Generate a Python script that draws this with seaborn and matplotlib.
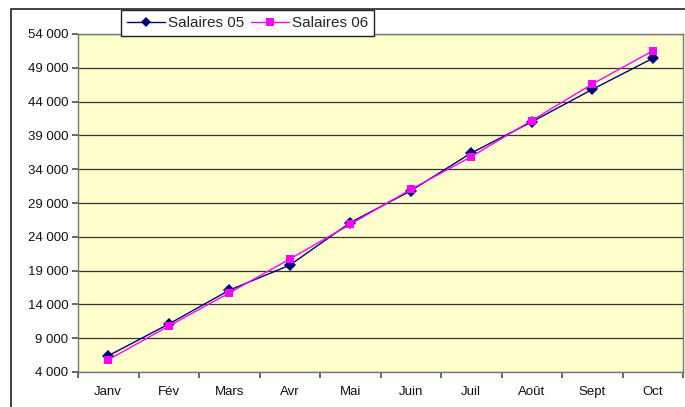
import numpy as np
import pandas as pd
import matplotlib
matplotlib.use('Agg')
import matplotlib.pyplot as plt
import seaborn as sns
from matplotlib.patches import Rectangle
from matplotlib.ticker import FuncFormatter, FixedLocator

# données
mois = ['Janv', 'Fév', 'Mars', 'Avr', 'Mai', 'Juin', 'Juil', 'Août', 'Sept', 'Oct']
salaires_05 = [6400, 11100, 16100, 19800, 26100, 30800, 36400, 41000, 45800, 50400]
salaires_06 = [5800, 10800, 15700, 20700, 25850, 31000, 35850, 41200, 46600, 51500]
y_ticks = list(range(4000, 54001, 5000))

df = pd.DataFrame({
    'mois': mois * 2,
    'pos': list(range(len(mois))) * 2,
    'salaire': salaires_05 + salaires_06,
    'serie': ['Salaires 05'] * len(mois) + ['Salaires 06'] * len(mois),
})

sns.set_theme(style='white')
plt.rcParams['font.family'] = ['Liberation Sans', 'DejaVu Sans']

fig = plt.figure(figsize=(6.85, 4.07), dpi=100)
ax = fig.add_axes([78 / 685, 1 - 372 / 407, 605 / 685, 338 / 407])
ax.set_facecolor('#FFFFCC')

# cadre extérieur du graphique
fig.patches.append(Rectangle((11 / 685, -0.01), 1.0, 1 - 9 / 407 + 0.01,
                             transform=fig.transFigure, fill=False,
                             edgecolor='#222222', linewidth=1.2, zorder=0))

palette = {'Salaires 05': '#000080', 'Salaires 06': '#FF00FF'}
markers = {'Salaires 05': 'D', 'Salaires 06': 's'}
sns.lineplot(data=df, x='pos', y='salaire', hue='serie', style='serie',
             palette=palette, markers=markers, dashes=False, linewidth=1.0,
             markersize=6, markeredgewidth=0, ax=ax, zorder=3)

ax.set_xlim(-0.5, len(mois) - 0.5)
ax.set_ylim(4000, 54000)
ax.yaxis.set_major_locator(FixedLocator(y_ticks))
ax.yaxis.set_major_formatter(FuncFormatter(lambda v, p: f'{int(v):,}'.replace(',', ' ')))
ax.xaxis.set_major_locator(FixedLocator(np.arange(-0.5, len(mois), 1.0)))
ax.xaxis.set_major_formatter(FuncFormatter(lambda v, p: ''))
ax.xaxis.set_minor_locator(FixedLocator(range(len(mois))))
ax.set_xticklabels(mois, minor=True)
ax.tick_params(axis='x', which='minor', length=0, pad=10, labelsize=9.5, colors='#111111')
ax.tick_params(axis='x', which='major', length=4, direction='out', color='#555555', bottom=True)
ax.tick_params(axis='y', length=4, direction='out', color='#555555', left=True,
               labelsize=9.5, labelcolor='#111111', pad=3)

ax.grid(axis='y', color='#333333', linewidth=0.9)
ax.set_axisbelow(True)
for s in ax.spines.values():
    s.set_color('#777777')
    s.set_linewidth(1.0)
ax.set_xlabel('')
ax.set_ylabel('')

leg = ax.legend(loc='upper left', bbox_to_anchor=((121 - 78) / 605, 1 + 24 / 338),
                ncol=2, frameon=True, fancybox=False, fontsize=11,
                handlelength=2.5, columnspacing=0.4, handletextpad=0.2,
                borderpad=0.4, borderaxespad=0, markerscale=0.85)
leg.get_frame().set_edgecolor('#222222')
leg.get_frame().set_linewidth(1.0)
leg.get_frame().set_facecolor('white')
leg.get_frame().set_alpha(1)

fig.savefig('out.png', dpi=100)
